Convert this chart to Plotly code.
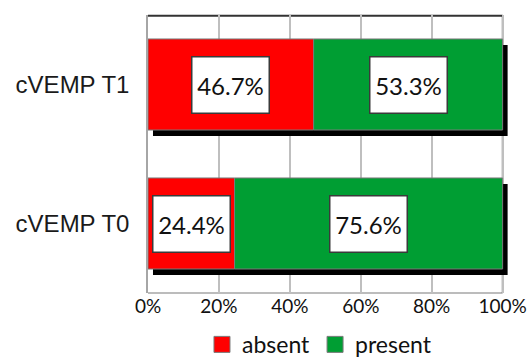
import plotly.graph_objects as go

categories = ["cVEMP T0", "cVEMP T1"]
absent = [24.4, 46.7]
present = [75.6, 53.3]
x_ticks = [0, 20, 40, 60, 80, 100]
x_tick_labels = ["0%", "20%", "40%", "60%", "80%", "100%"]
series_names = ["absent", "present"]

RED = "#FF0000"
GREEN = "#009E33"
OUTLINE = "#7a7a7a"
BAR_WIDTH = 0.655

totals = [a + p for a, p in zip(absent, present)]

# plot area in pixels; the value axis runs a little past 100% so the
# drop shadow on the right-hand side stays visible
W, H = 530, 358
L, T, B = 148, 15, 65
PX_PER_PCT = 3.55
X_MAX = 101.8
R = W - L - round(X_MAX * PX_PER_PCT)
px_x = 1 / PX_PER_PCT
px_y = len(categories) / (H - T - B)
FULL = 100 / X_MAX  # paper position of the 100% line

fig = go.Figure()

# drop shadow behind each stacked bar
fig.add_trace(go.Bar(
    y=categories, x=totals, base=[5 * px_x] * len(totals),
    orientation="h", width=BAR_WIDTH,
    offset=-BAR_WIDTH / 2 - 6 * px_y,
    marker=dict(color="black", line=dict(width=0)),
    showlegend=False, hoverinfo="skip",
))
fig.add_trace(go.Bar(
    y=categories, x=absent, base=[0] * len(absent), name=series_names[0],
    orientation="h", width=BAR_WIDTH, showlegend=False,
    marker=dict(color=RED, line=dict(color=OUTLINE, width=1)),
))
fig.add_trace(go.Bar(
    y=categories, x=present, base=absent, name=series_names[1],
    orientation="h", width=BAR_WIDTH, showlegend=False,
    marker=dict(color=GREEN, line=dict(color=OUTLINE, width=1)),
))

# legend entries with larger square swatches
for name, color in zip(series_names, (RED, GREEN)):
    fig.add_trace(go.Scatter(
        x=[None], y=[None], mode="markers", name=name,
        marker=dict(symbol="square", size=16, color=color,
                    line=dict(color=OUTLINE, width=1)),
    ))

label_font = dict(family="Lato, 'Open Sans', sans-serif", size=24, color="#111111")
annotations = []
for cat, a, p in zip(categories, absent, present):
    for xc, val in ((a / 2, a), (a + p / 2, p)):
        annotations.append(dict(
            x=xc, y=cat, xref="x", yref="y", text=f"{val:.1f}%",
            showarrow=False, font=label_font,
            bgcolor="white", bordercolor="#3a3a3a", borderwidth=1.5,
            width=76, height=55, borderpad=0,
        ))

fig.update_layout(
    width=W, height=H,
    margin=dict(l=L, r=R, t=T, b=B, pad=0, autoexpand=False),
    paper_bgcolor="white", plot_bgcolor="white",
    barmode="overlay",
    annotations=annotations,
    showlegend=True,
    legend=dict(
        orientation="h", x=0.475, xanchor="center", y=-0.185, yanchor="middle",
        font=dict(family="Lato, 'Open Sans', sans-serif", size=23, color="#111111"),
        traceorder="normal", itemsizing="trace", itemwidth=30,
        tracegroupgap=0,
    ),
    xaxis=dict(
        range=[0, X_MAX], tickvals=x_ticks, ticktext=x_tick_labels,
        showgrid=True, gridcolor="#bfbfbf", gridwidth=1.5,
        showline=False, zeroline=False, ticks="", ticklen=0, automargin=False,
        tickfont=dict(family="Lato, 'Open Sans', sans-serif", size=19, color="#111111"),
    ),
    yaxis=dict(
        categoryorder="array", categoryarray=categories,
        range=[-0.5, 1.5], automargin=False,
        showgrid=False, showline=True, linecolor="#a6a6a6", linewidth=1.5,
        ticks="", ticklen=0, ticklabelstandoff=12,
        tickfont=dict(family="'Liberation Sans', Arial, sans-serif", size=24, color="#1a1a1a"),
    ),
    shapes=[
        # frame: bottom, top and right edges, ending at 100%
        dict(type="line", xref="paper", yref="paper", x0=0, x1=FULL, y0=0, y1=0,
             line=dict(color="#a6a6a6", width=1.5), layer="below"),
        dict(type="line", xref="paper", yref="paper", x0=0, x1=FULL,
             y0=0.997, y1=0.997,
             line=dict(color="#333333", width=2), layer="below"),
        dict(type="line", xref="paper", yref="paper", x0=FULL, x1=FULL, y0=0, y1=1,
             line=dict(color="#1a1a1a", width=1.5), layer="below"),
    ],
)

fig.write_html("out.html")
